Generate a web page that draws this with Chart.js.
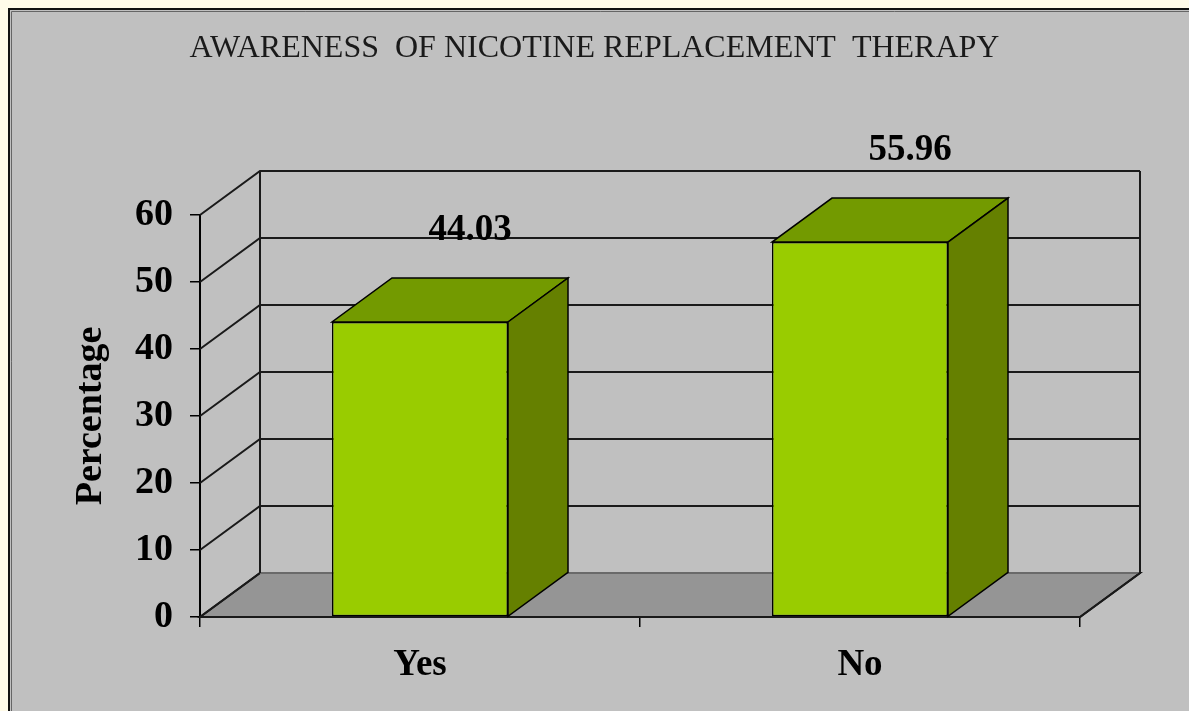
<!DOCTYPE html>
<html>
<head>
<meta charset="utf-8">
<title>Awareness of nicotine replacement therapy</title>
<script src="https://cdn.jsdelivr.net/npm/chart.js@4/dist/chart.umd.min.js"></script>
<style>
    html, body { margin: 0; padding: 0; background: #fffbe9; }
    #wrap { width: 1189px; height: 711px; }
</style>
</head>
<body>
<div id="wrap"><canvas id="chart" width="1189" height="711"></canvas></div>
<script>
var categories = ['Yes', 'No'];
var percentages = [44.03, 55.96];
var yTicks = [0, 10, 20, 30, 40, 50, 60];

var SERIF = "'Liberation Serif', 'Times New Roman', serif";
var DEPTH_X = 60, DEPTH_Y = -44;   // 3d offset of back wall
var LABEL_DX = 50, LABEL_DY = 92;

function poly(ctx, pts, fill) {
    ctx.beginPath();
    ctx.moveTo(pts[0][0], pts[0][1]);
    for (var i = 1; i < pts.length; i++) ctx.lineTo(pts[i][0], pts[i][1]);
    ctx.closePath();
    ctx.fillStyle = fill;
    ctx.fill();
    ctx.stroke();
}

function line(ctx, pts) {
    ctx.beginPath();
    ctx.moveTo(pts[0][0], pts[0][1]);
    for (var i = 1; i < pts.length; i++) ctx.lineTo(pts[i][0], pts[i][1]);
    ctx.stroke();
}

// grey frame behind everything
var framePlugin = {
    id: 'frame',
    beforeDraw: function (chart) {
        var ctx = chart.ctx;
        ctx.save();
        ctx.fillStyle = '#fffbe9';
        ctx.fillRect(0, 0, chart.width, chart.height);
        ctx.fillStyle = '#c0c0c0';
        ctx.fillRect(8, 8, chart.width, chart.height);
        ctx.strokeStyle = '#111';
        ctx.lineWidth = 2;
        line(ctx, [[9, chart.height], [9, 9], [chart.width, 9]]);
        ctx.strokeStyle = '#666';
        ctx.lineWidth = 1;
        line(ctx, [[11.5, chart.height], [11.5, 11.5], [chart.width, 11.5]]);
        ctx.restore();
    }
};

// walls, floor and gridlines of the 3d box
var wallPlugin = {
    id: 'wall3d',
    beforeDatasetsDraw: function (chart) {
        var ctx = chart.ctx, a = chart.chartArea, y = chart.scales.y;
        var y0 = y.getPixelForValue(0);
        var yTop = y.getPixelForValue(yTicks[yTicks.length - 1]);
        ctx.save();
        ctx.lineWidth = 2;
        ctx.strokeStyle = '#1a1a1a';

        // floor
        poly(ctx, [[a.left, y0], [a.right, y0], [a.right + DEPTH_X, y0 + DEPTH_Y], [a.left + DEPTH_X, y0 + DEPTH_Y]], '#959595');

        yTicks.forEach(function (v) {
            var py = y.getPixelForValue(v);
            if (v === 0) {
                line(ctx, [[a.left, py], [a.left + DEPTH_X, py + DEPTH_Y]]);
                ctx.strokeStyle = '#6a6a6a';
                line(ctx, [[a.left + DEPTH_X, py + DEPTH_Y], [a.right + DEPTH_X, py + DEPTH_Y]]);
                ctx.strokeStyle = '#1a1a1a';
            } else {
                line(ctx, [[a.left, py], [a.left + DEPTH_X, py + DEPTH_Y], [a.right + DEPTH_X, py + DEPTH_Y]]);
            }
        });

        line(ctx, [[a.left + DEPTH_X, yTop + DEPTH_Y], [a.left + DEPTH_X, y0 + DEPTH_Y]]);
        line(ctx, [[a.right + DEPTH_X, yTop + DEPTH_Y], [a.right + DEPTH_X, y0 + DEPTH_Y], [a.right, y0]]);
        ctx.restore();
    },
    afterDatasetsDraw: function (chart) {
        var ctx = chart.ctx;
        var meta = chart.getDatasetMeta(0);
        ctx.save();
        ctx.lineWidth = 1.5;
        ctx.strokeStyle = '#000';
        meta.data.forEach(function (bar, i) {
            var p = bar.getProps(['x', 'y', 'base', 'width'], true);
            var l = p.x - p.width / 2, r = p.x + p.width / 2;
            poly(ctx, [[l, p.y], [r, p.y], [r + DEPTH_X, p.y + DEPTH_Y], [l + DEPTH_X, p.y + DEPTH_Y]], '#739a00');
            poly(ctx, [[r, p.y], [r + DEPTH_X, p.y + DEPTH_Y], [r + DEPTH_X, p.base + DEPTH_Y], [r, p.base]], '#658000');

            ctx.fillStyle = '#000';
            ctx.font = 'bold 37px ' + SERIF;
            ctx.textAlign = 'center';
            ctx.textBaseline = 'middle';
            ctx.fillText(percentages[i].toFixed(2), p.x + LABEL_DX, p.y - LABEL_DY);
        });
        ctx.restore();
    }
};

var ctx = document.getElementById('chart').getContext('2d');
var chart = new Chart(ctx, {
    type: 'bar',
    data: {
        labels: categories,
        datasets: [{
            data: percentages,
            backgroundColor: '#99cc00',
            borderColor: '#000',
            borderWidth: 1.5,
            borderSkipped: false,
            categoryPercentage: 1,
            barPercentage: 0.4
        }]
    },
    options: {
        responsive: false,
        animation: false,
        devicePixelRatio: 1,
        layout: { padding: 0 },
        plugins: {
            legend: { display: false },
            tooltip: { enabled: false },
            title: {
                display: true,
                text: 'AWARENESS  OF NICOTINE REPLACEMENT  THERAPY',
                color: '#1a1a1a',
                font: { family: SERIF, size: 32, weight: 'normal' },
                padding: { top: 29, bottom: 147.6 }
            }
        },
        scales: {
            x: {
                grid: { drawOnChartArea: false, drawTicks: true, tickLength: 10, color: '#000', lineWidth: 1.5 },
                border: { display: true, color: '#000', width: 2 },
                ticks: { color: '#000', padding: 16, font: { family: SERIF, size: 37, weight: 'bold' } },
                afterFit: function (scale) { scale.height = 94; }
            },
            y: {
                min: 0,
                max: 60,
                afterBuildTicks: function (scale) {
                    scale.ticks = yTicks.map(function (v) { return { value: v }; });
                },
                grid: { drawOnChartArea: false, drawTicks: true, tickLength: 10, color: '#000', lineWidth: 1.5 },
                border: { display: true, color: '#000', width: 2 },
                ticks: { color: '#000', padding: 17, font: { family: SERIF, size: 38, weight: 'bold' } },
                title: {
                    display: true,
                    text: 'Percentage',
                    color: '#000',
                    font: { family: SERIF, size: 38, weight: 'bold' },
                    padding: { top: 68, bottom: 0 }
                },
                afterFit: function (scale) { scale.width = 200; }
            },
            yRight: {
                position: 'right',
                display: true,
                grid: { display: false },
                border: { display: false },
                ticks: { display: false },
                afterFit: function (scale) { scale.width = 109; }
            }
        }
    },
    plugins: [framePlugin, wallPlugin]
});
</script>
</body>
</html>
